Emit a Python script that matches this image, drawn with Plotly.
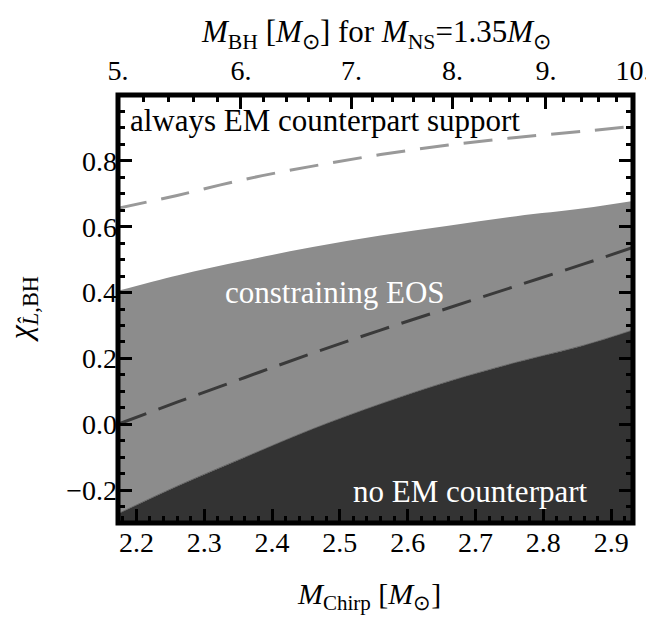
import plotly.graph_objects as go

# ---------------- data ----------------
m_chirp = [2.1727, 2.26, 2.36, 2.46, 2.56, 2.66, 2.76, 2.86, 2.932]
chi_no_em_upper = [-0.272, -0.188, -0.100, -0.014, 0.062, 0.130, 0.188, 0.240, 0.286]
chi_eos_upper = [0.405, 0.452, 0.497, 0.538, 0.573, 0.603, 0.632, 0.656, 0.678]
chi_dark_dashed = [0.0, 0.067, 0.142, 0.216, 0.286, 0.353, 0.420, 0.487, 0.537]
chi_light_dashed = [0.656, 0.695, 0.744, 0.784, 0.819, 0.848, 0.871, 0.890, 0.905]

x_tick_vals = [2.2, 2.3, 2.4, 2.5, 2.6, 2.7, 2.8, 2.9]
x_tick_text = ["2.2", "2.3", "2.4", "2.5", "2.6", "2.7", "2.8", "2.9"]
y_tick_vals = [-0.2, 0.0, 0.2, 0.4, 0.6, 0.8]
y_tick_text = ["\u22120.2", "0.0", "0.2", "0.4", "0.6", "0.8"]
y_range = [-0.3, 1.0]

m_ns = 1.35
m_bh_major = [5, 6, 7, 8, 9, 10]
m_bh_major_text = ["5.", "6.", "7.", "8.", "9.", "10."]
m_bh_minor = [5.2, 5.4, 5.6, 5.8, 6.2, 6.4, 6.6, 6.8, 7.2, 7.4, 7.6, 7.8,
              8.2, 8.4, 8.6, 8.8, 9.2, 9.4, 9.6, 9.8]

region_labels = ["always EM counterpart support", "constraining EOS", "no EM counterpart"]
region_label_x = [2.478, 2.493, 2.693]
region_label_y = [0.922, 0.40, -0.204]
region_label_color = ["black", "white", "white"]


def chirp(m1, m2=m_ns):
    return (m1 * m2) ** 0.6 / (m1 + m2) ** 0.2


x_range = [chirp(m_bh_major[0]), chirp(m_bh_major[-1])]

FONT = "Liberation Serif, Times New Roman, serif"
DARK = "#333333"
MID = "#8c8c8c"

fig = go.Figure()

# floor of the plot (for filling the dark region)
fig.add_trace(go.Scatter(x=m_chirp, y=[y_range[0]] * len(m_chirp), mode="lines",
                         line=dict(width=0, color=DARK), hoverinfo="skip",
                         showlegend=False))
fig.add_trace(go.Scatter(x=m_chirp, y=chi_no_em_upper, mode="lines",
                         line=dict(width=0.8, color="#555555", shape="spline"),
                         fill="tonexty", fillcolor=DARK, showlegend=False))
fig.add_trace(go.Scatter(x=m_chirp, y=chi_eos_upper, mode="lines",
                         line=dict(width=0, color=MID, shape="spline"),
                         fill="tonexty", fillcolor=MID, showlegend=False))
fig.add_trace(go.Scatter(x=m_chirp, y=chi_dark_dashed, mode="lines",
                         line=dict(width=3, color="#3a3a3a", dash="30px,13px", shape="spline"),
                         showlegend=False))
fig.add_trace(go.Scatter(x=m_chirp, y=chi_light_dashed, mode="lines",
                         line=dict(width=3, color="#999999", dash="29px,15px", shape="spline"),
                         showlegend=False))
# invisible trace for the top axis
fig.add_trace(go.Scatter(x=x_range, y=y_range, xaxis="x2", mode="markers",
                         marker=dict(opacity=0), hoverinfo="skip", showlegend=False))

for t, xx, yy, c in zip(region_labels, region_label_x, region_label_y, region_label_color):
    fig.add_annotation(x=xx, y=yy, xref="x", yref="y", text=t, showarrow=False,
                       font=dict(family=FONT, size=31, color=c),
                       xanchor="center", yanchor="middle")

# axis titles
fig.add_annotation(x=0.487, y=-0.17, xref="paper", yref="paper", showarrow=False,
                   text="<i>M</i><sub>Chirp</sub> [<i>M</i><sub>\u2299</sub>]",
                   font=dict(family=FONT, size=30, color="black"),
                   xanchor="center", yanchor="middle")
fig.add_annotation(x=0.5, y=1.1425, xref="paper", yref="paper", showarrow=False,
                   text="<i>M</i><sub>BH</sub> [<i>M</i><sub>\u2299</sub>] for "
                        "<i>M</i><sub>NS</sub>=1.35<i>M</i><sub>\u2299</sub>",
                   font=dict(family=FONT, size=31, color="black"),
                   xanchor="center", yanchor="middle")
fig.add_annotation(x=-0.186, y=0.5, xref="paper", yref="paper", showarrow=False,
                   text="<i>\u03c7</i><sub><i>L\u0302</i>,BH</sub>", textangle=-90,
                   font=dict(family=FONT, size=32, color="black"),
                   xanchor="center", yanchor="middle")

# frame
fig.add_shape(type="rect", xref="paper", yref="paper", x0=0, x1=1, y0=0, y1=1,
              line=dict(color="black", width=5), layer="above")

tickfont = dict(family=FONT, size=28, color="black")

# the page body adds an 8px offset, so the figure is 8px smaller
fig.update_layout(
    width=646, height=613,
    margin=dict(l=110, r=21, t=87, b=98, autoexpand=False),
    paper_bgcolor="white", plot_bgcolor="white",
    xaxis=dict(range=x_range, tickmode="array", tickvals=x_tick_vals, ticktext=x_tick_text,
               ticks="inside", ticklen=14, tickwidth=2.5, tickcolor="black",
               minor=dict(dtick=0.02, tick0=2.2, ticks="inside", ticklen=7,
                          tickwidth=2.5, tickcolor="black"),
               showgrid=False, zeroline=False, showline=False, automargin=False,
               tickfont=tickfont),
    xaxis2=dict(range=x_range, overlaying="x", side="top", tickmode="array",
                tickvals=[chirp(m) for m in m_bh_major], ticktext=m_bh_major_text,
                ticks="inside", ticklen=14, tickwidth=2.5, tickcolor="black",
                minor=dict(tickmode="array", tickvals=[chirp(m) for m in m_bh_minor],
                           ticks="inside", ticklen=7, tickwidth=2.5, tickcolor="black"),
                showgrid=False, zeroline=False, showline=False, automargin=False,
                ticklabeloverflow="allow", ticklabelstandoff=8, tickfont=tickfont),
    yaxis=dict(range=y_range, tickmode="array", tickvals=y_tick_vals, ticktext=y_tick_text,
               ticks="inside", ticklen=14, tickwidth=2.5, tickcolor="black",
               minor=dict(dtick=0.05, tick0=0, ticks="inside", ticklen=7,
                          tickwidth=2.5, tickcolor="black"),
               mirror="ticks", showgrid=False, zeroline=False, showline=False,
               automargin=False, tickfont=tickfont),
)

fig.write_html("out.html")
